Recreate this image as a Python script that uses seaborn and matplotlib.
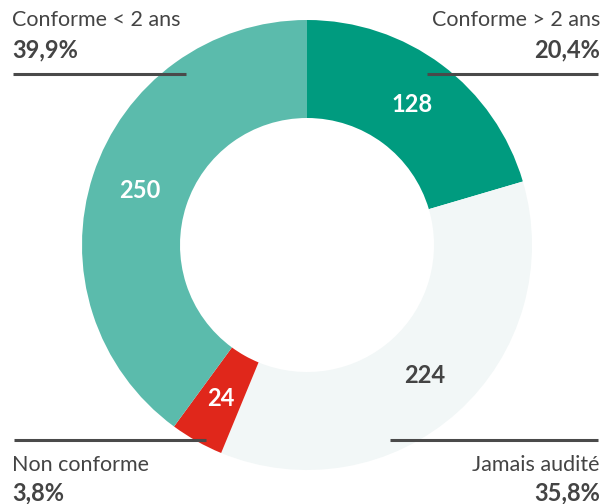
import matplotlib
matplotlib.use("Agg")
import matplotlib.pyplot as plt
import numpy as np
import seaborn as sns

# Data
categories = ["Conforme > 2 ans", "Jamais audité", "Non conforme", "Conforme < 2 ans"]
counts = [128, 224, 24, 250]
colors = ["#009B7F", "#F2F7F7", "#E0271B", "#5BBBAC"]
value_colors = ["white", "#444444", "white", "white"]

total = sum(counts)
percents = [f"{c / total * 100:.1f}%".replace(".", ",") for c in counts]

sns.set_theme(style="white")
plt.rcParams['font.family'] = ['Lato', 'DejaVu Sans']

fig = plt.figure(figsize=(6.04, 5.04), dpi=100)
ax = fig.add_axes([0, 0, 1, 1])

wedges, _ = ax.pie(counts, colors=colors, startangle=90, counterclock=False,
                   center=(307, 259), radius=225,
                   wedgeprops=dict(width=98, linewidth=0))

# pie() resets limits, so set the pixel-like space afterwards
ax.set_xlim(0, 604)
ax.set_ylim(0, 504)
ax.set_aspect('equal')
ax.axis('off')

# value labels inside the ring
for w, c, tc in zip(wedges, counts, value_colors):
    ang = np.deg2rad((w.theta1 + w.theta2) / 2)
    r = 225 - 98 / 2
    ax.text(307 + r * np.cos(ang), 259 + r * np.sin(ang), str(c),
            ha='center', va='center', color=tc, fontsize=17, fontweight='bold')

# corner labels with leader lines
gray = "#444444"
corner = {
    "Conforme < 2 ans": dict(x=12, ha='left', y1=484, y2=454, line=(13, 186, 430)),
    "Conforme > 2 ans": dict(x=600, ha='right', y1=484, y2=454, line=(427, 598, 430)),
    "Non conforme": dict(x=12, ha='left', y1=39, y2=11, line=(14, 206, 64)),
    "Jamais audité": dict(x=600, ha='right', y1=39, y2=11, line=(390, 598, 64)),
}
for cat, pct in zip(categories, percents):
    p = corner[cat]
    ax.text(p['x'], p['y1'], cat, ha=p['ha'], va='center', color=gray, fontsize=15.5)
    ax.text(p['x'], p['y2'], pct, ha=p['ha'], va='center', color=gray,
            fontsize=17, fontweight='bold')
    x0, x1, yl = p['line']
    ax.plot([x0, x1], [yl, yl], color="#4a4a4a", linewidth=2.2, solid_capstyle='butt')

plt.savefig("out.png", dpi=100)
